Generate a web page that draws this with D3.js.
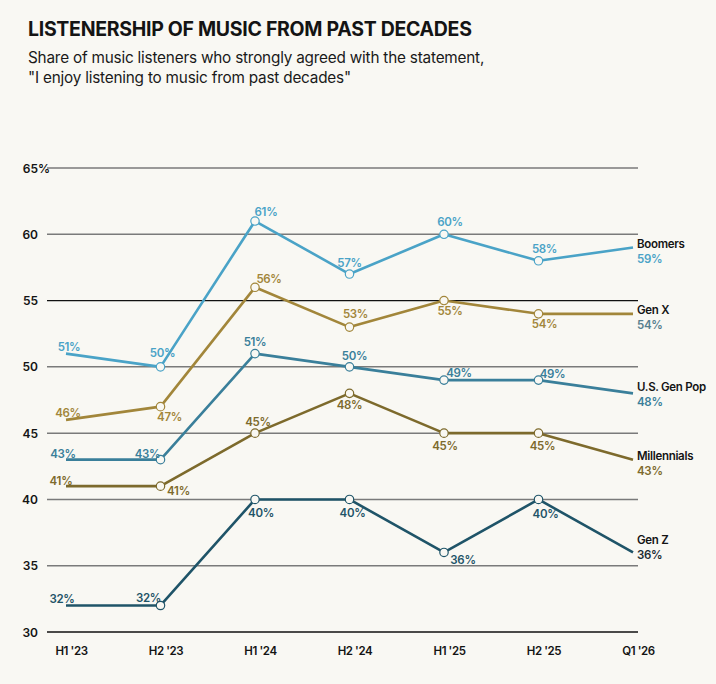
<!DOCTYPE html>
<html><head><meta charset="utf-8">
<script src="https://cdn.jsdelivr.net/npm/d3@7"></script>
<style>
html,body{margin:0;padding:0;background:#f9f8f3;}
svg{display:block;font-family:Inter,"Noto Sans",sans-serif;}
</style></head>
<body><svg id="c" width="716" height="684"></svg>
<script>
const periods = ["H1 '23","H2 '23","H1 '24","H2 '24","H1 '25","H2 '25","Q1 '26"];
const yTicks = [30,35,40,45,50,55,60,65];
const boomers = [51,50,61,57,60,58,59];
const genX = [46,47,56,53,55,54,54];
const genPop = [43,43,51,50,49,49,48];
const millennials = [41,41,45,48,45,45,43];
const genZ = [32,32,40,40,36,40,36];
const seriesNames = ["Boomers","Gen X","U.S. Gen Pop","Millennials","Gen Z"];

// label placement (layout only): [dx, dy of baseline] relative to each point
const series = [
  {name:seriesNames[0], values:boomers, color:"#4aa3c7", text:"#4aa3c7", endText:"#4aa3c7",
   place:[[3,-3],[2,-10],[11,-5],[0,-7],[6,-8],[6,-8]], nameDy:0},
  {name:seriesNames[1], values:genX, color:"#a2863a", text:"#a2863a", endText:"#57808f",
   place:[[2,-3],[9,14],[14,-4],[6,-9],[6,14],[6,14]], nameDy:0},
  {name:seriesNames[2], values:genPop, color:"#3a7f9a", text:"#3a7f9a", endText:"#3a7f9a",
   place:[[-3,-2],[-13,-2],[0,-8],[5,-7],[15,-3],[14,-2]], nameDy:-2},
  {name:seriesNames[3], values:millennials, color:"#7d6a2c", text:"#7d6a2c", endText:"#7d6a2c",
   place:[[-5,-1],[18,9],[3,-7],[0,16],[1,17],[4,17]], nameDy:0},
  {name:seriesNames[4], values:genZ, color:"#1f5468", text:"#1f5468", endText:"#1c2d35",
   place:[[-4,-2],[-12,-3],[6,18],[3,18],[19,12],[7,19]], nameDy:-8}
];

const svg = d3.select("#c");
svg.append("rect").attr("width",716).attr("height",684).attr("fill","#f9f8f3");

svg.append("text").attr("x",28).attr("y",36).attr("font-size",19.5).attr("font-weight",700)
  .attr("fill","#141414").attr("letter-spacing","-0.3").text("LISTENERSHIP OF MUSIC FROM PAST DECADES");
svg.append("text").attr("x",28).attr("y",63).attr("font-size",15.3).attr("fill","#1a1a1a")
  .attr("letter-spacing","-0.2").text("Share of music listeners who strongly agreed with the statement,");
svg.append("text").attr("x",28).attr("y",83).attr("font-size",15.3).attr("fill","#1a1a1a")
  .attr("letter-spacing","-0.2").text("\"I enjoy listening to music from past decades\"");

const x = d3.scalePoint().domain(periods).range([66,633]);
const y = d3.scaleLinear().domain([30,65]).range([632,168]);

// gridlines
const g = svg.append("g");
yTicks.forEach(t=>{
  const dark = (t===30||t===55);
  g.append("line").attr("x1",47).attr("x2",638).attr("y1",y(t)).attr("y2",y(t))
    .attr("stroke", dark?"#111":"#7a7a7a").attr("stroke-width", dark?1.3:1.5);
  g.append("text").attr("x",38).attr("y",y(t)+4.5).attr("text-anchor","end")
    .attr("font-size",12).attr("font-weight",600).attr("fill","#141414").text(t);
  if(t===65) g.append("text").attr("x",38).attr("y",y(t)+4.5).attr("font-size",12)
    .attr("font-weight",600).attr("fill","#141414").text("%");
});

// x axis labels
const xa = svg.append("g").attr("transform","translate(5,655)")
  .call(d3.axisBottom(x).tickSize(0).tickPadding(0));
xa.select(".domain").remove();
xa.selectAll("text").attr("font-size",11.5).attr("font-weight",600).attr("fill","#141414")
  .attr("font-family","Inter,'Noto Sans',sans-serif").attr("letter-spacing","-0.4").attr("dy","0");

const line = d3.line().x((d,i)=>x(periods[i])).y(d=>y(d));

series.forEach(s=>{
  const sg = svg.append("g");
  sg.append("path").attr("d",line(s.values)).attr("fill","none").attr("stroke",s.color)
    .attr("stroke-width",2.6).attr("stroke-linejoin","round");
  s.values.forEach((v,i)=>{
    if(i>0 && i<s.values.length-1){
      sg.append("circle").attr("cx",x(periods[i])).attr("cy",y(v)).attr("r",4.2)
        .attr("fill","#f9f8f3").attr("stroke",s.color).attr("stroke-width",1.2);
    }
  });
  s.values.forEach((v,i)=>{
    if(i<s.values.length-1){
      const [dx,dy] = s.place[i];
      sg.append("text").attr("x",x(periods[i])+dx).attr("y",y(v)+dy)
        .attr("text-anchor","middle").attr("font-size",11.5).attr("font-weight",600)
        .attr("fill",s.text).attr("letter-spacing","-0.3").text(v+"%");
    }
  });
  const last = s.values[s.values.length-1];
  const ly = y(last)+s.nameDy;
  sg.append("text").attr("x",637).attr("y",ly).attr("font-size",11.5).attr("font-weight",600)
    .attr("fill","#141414").attr("letter-spacing","-0.3").text(s.name);
  sg.append("text").attr("x",637).attr("y",ly+15).attr("font-size",11.5).attr("font-weight",600)
    .attr("fill",s.endText).attr("letter-spacing","-0.3").text(last+"%");
});
</script></body></html>
